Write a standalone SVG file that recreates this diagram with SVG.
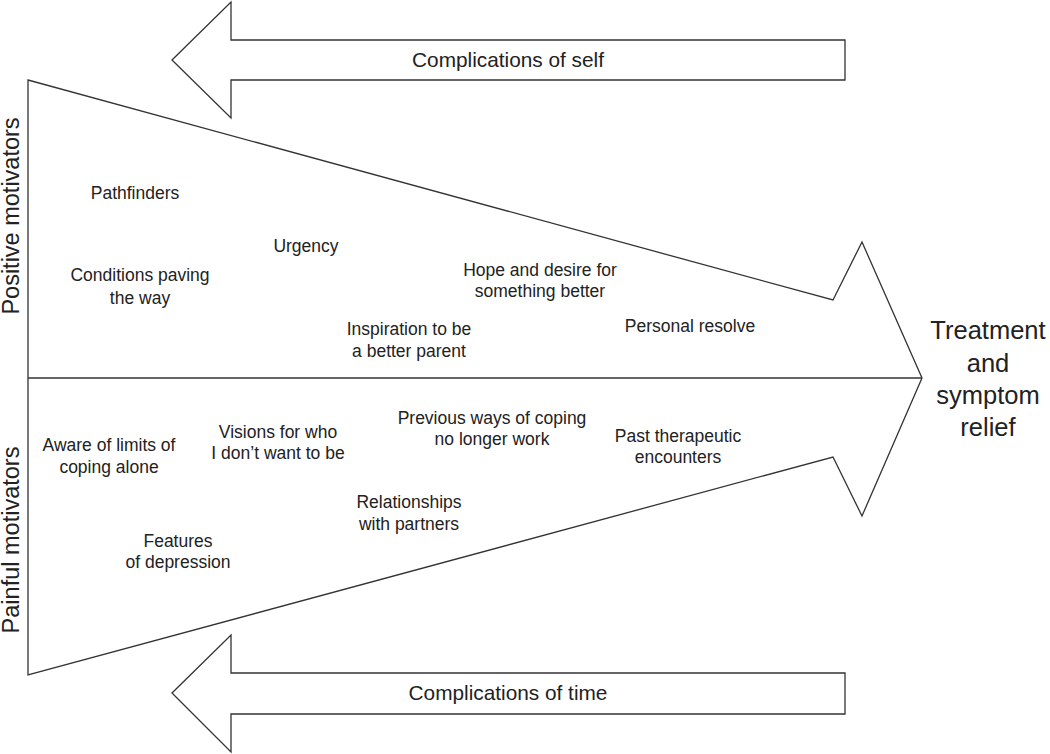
<svg xmlns="http://www.w3.org/2000/svg" width="1050" height="754" viewBox="0 0 1050 754">
<style>
.shape{fill:#fff;stroke:#333;stroke-width:1.3;stroke-linejoin:miter}
.lbl{font-family:"Liberation Sans",Arial,sans-serif;font-size:17.5px;fill:#222;text-anchor:middle}
.big{font-family:"Liberation Sans",Arial,sans-serif;font-size:20.8px;fill:#222;text-anchor:middle}
.side{font-family:"Liberation Sans",Arial,sans-serif;font-size:23.5px;fill:#222;text-anchor:middle}
.goal{font-family:"Liberation Sans",Arial,sans-serif;font-size:25.5px;fill:#222;text-anchor:middle}
</style>
<rect width="1050" height="754" fill="#fff"/>
<g id="connectors">
<polygon id="main-arrow" class="shape" points="28,80 833,300 862,242 922,378 862,516 833,457 28,675"/>
<line class="shape" x1="28" y1="378" x2="922" y2="378"/>
<polygon id="arrow-self" class="shape" points="172,60 231,2 231,40 845,40 845,80 231,80 231,118"/>
<polygon id="arrow-time" class="shape" points="172,693 231,635 231,673 845,673 845,714 231,714 231,752"/>
</g>
<g id="complications-self"><text class="big" x="508" y="67">Complications of self</text></g>
<g id="complications-time"><text class="big" x="508" y="700">Complications of time</text></g>
<g id="positive"><text class="side" transform="translate(19,216) rotate(-90)">Positive motivators</text></g>
<g id="painful"><text class="side" transform="translate(19,540) rotate(-90)">Painful motivators</text></g>
<g id="goal"><text class="goal" x="988" y="339">Treatment</text><text class="goal" x="988" y="372">and</text><text class="goal" x="988" y="404">symptom</text><text class="goal" x="988" y="436">relief</text></g>
<g id="pathfinders"><text class="lbl" x="135" y="199">Pathfinders</text></g>
<g id="conditions"><text class="lbl" x="140" y="281">Conditions paving</text><text class="lbl" x="140" y="304">the way</text></g>
<g id="urgency"><text class="lbl" x="306" y="252">Urgency</text></g>
<g id="hope"><text class="lbl" x="540" y="276">Hope and desire for</text><text class="lbl" x="540" y="297">something better</text></g>
<g id="inspiration"><text class="lbl" x="409" y="335">Inspiration to be</text><text class="lbl" x="409" y="357">a better parent</text></g>
<g id="resolve"><text class="lbl" x="690" y="332">Personal resolve</text></g>
<g id="aware"><text class="lbl" x="109" y="451">Aware of limits of</text><text class="lbl" x="109" y="473">coping alone</text></g>
<g id="visions"><text class="lbl" x="278" y="438">Visions for who</text><text class="lbl" x="278" y="459">I don’t want to be</text></g>
<g id="previous"><text class="lbl" x="492" y="424">Previous ways of coping</text><text class="lbl" x="492" y="445">no longer work</text></g>
<g id="past"><text class="lbl" x="678" y="442">Past therapeutic</text><text class="lbl" x="678" y="463">encounters</text></g>
<g id="relationships"><text class="lbl" x="409" y="508">Relationships</text><text class="lbl" x="409" y="530">with partners</text></g>
<g id="features"><text class="lbl" x="178" y="547">Features</text><text class="lbl" x="178" y="568">of depression</text></g>
</svg>
